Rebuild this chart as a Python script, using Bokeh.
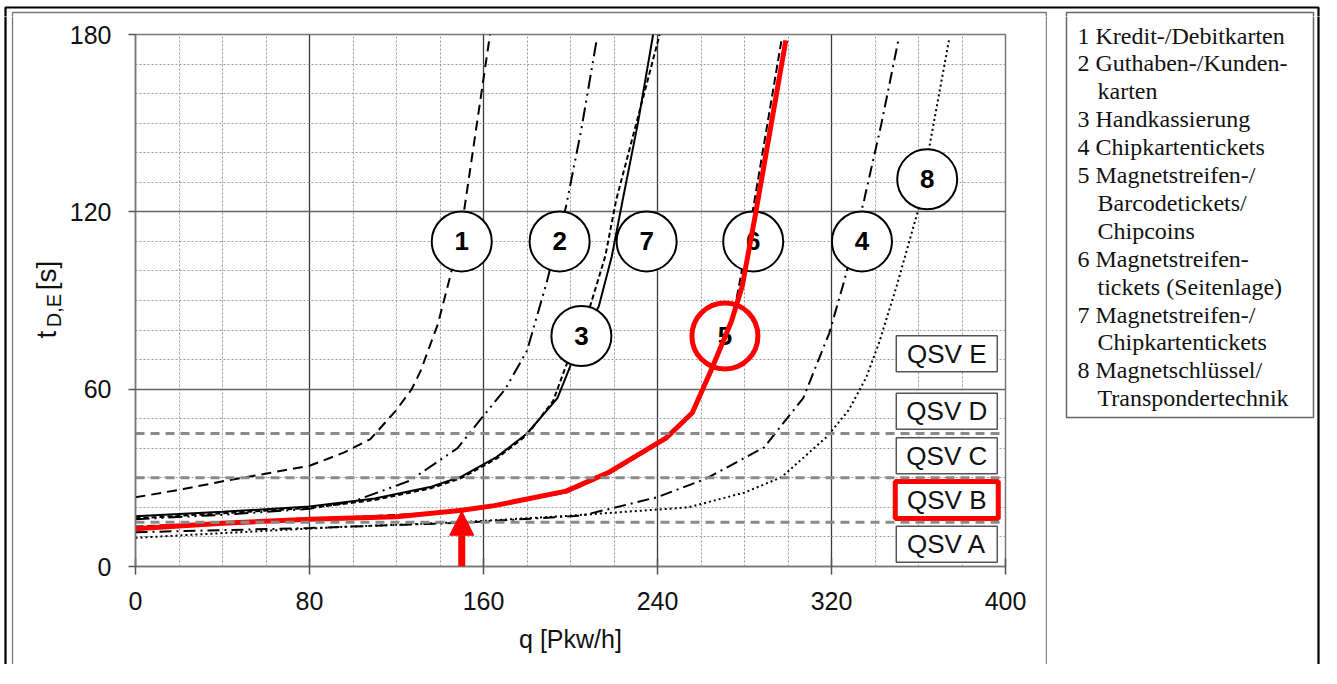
import math
from bokeh.plotting import figure
from bokeh.layouts import row, column
from bokeh.models import FixedTicker, Span, Arrow, NormalHead, Range1d
from bokeh.core.properties import value
from bokeh.embed import file_html
from bokeh.resources import INLINE

# ---------------- data ----------------
x_ticks = [0, 80, 160, 240, 320, 400]
y_ticks = [0, 60, 120, 180]
x_title = "q [Pkw/h]"
y_title_main = "t"
y_title_sub = "D,E"
y_title_unit = "[s]"

qsv_bounds = [15, 30, 45]
qsv_labels = ["QSV A", "QSV B", "QSV C", "QSV D", "QSV E"]
qsv_highlight = "QSV B"
arrow_q = 150

# curves: q [Pkw/h] -> t_D,E [s]
c1_q = [0, 22, 42, 59, 80, 96, 108, 120, 127, 131, 139, 145, 151, 157, 163]
c1_t = [23.4, 26.2, 29.1, 31.3, 34.1, 38.6, 43.1, 53, 60, 66, 82, 99, 120, 150, 180]
c2_q = [0, 40, 80, 100, 126, 148, 160, 170, 180, 189, 198, 205, 212]
c2_t = [16, 17.5, 19.5, 22, 29, 40, 51, 60, 73, 96, 122, 148, 178]
c3_q = [0, 40, 80, 110, 136, 150, 166, 180, 194, 200, 205, 213, 219, 224, 231, 238]
c3_t = [17, 18.5, 20.3, 23, 27, 30.5, 37, 45, 57, 68, 78, 88, 105, 124, 150, 180]
c7_q = [0, 40, 80, 110, 136, 150, 166, 180, 192, 198, 209, 216, 221, 231, 241]
c7_t = [16.3, 18, 19.8, 22.5, 26.5, 30, 36.5, 44.5, 56, 68, 88, 105, 124, 152, 180]
c4_q = [0, 80, 150, 205, 218, 240, 262, 289, 307, 319, 326, 335, 343, 351]
c4_t = [11.6, 13, 14.8, 17.2, 19.5, 23.5, 29.6, 40.3, 57, 79, 97, 124, 150, 179]
c6_q = [0, 80, 150, 198, 218, 244, 256, 265, 274, 277.5, 283.5, 297]
c6_t = [13.5, 16, 18.6, 25, 31.5, 43, 51.5, 66, 82, 95, 119, 178]
c8_q = [0, 40, 92, 150, 200, 254, 280, 297, 318, 328, 336, 342, 350, 360, 365, 374]
c8_t = [9.7, 11.3, 13.3, 15, 17.2, 20, 25, 30.2, 44, 53, 64, 76, 95, 121, 142, 178]
c5_q = [0, 40, 80, 120, 150, 165, 198, 218, 244, 256, 265, 274, 279, 285, 299]
c5_t = [12.8, 14.6, 16, 16.8, 19, 20.6, 25.5, 32, 43.5, 52, 67, 83, 95, 119, 178]

legend_lines = ["1 Kredit-/Debitkarten", "2 Guthaben-/Kunden-", "karten",
                "3 Handkassierung", "4 Chipkartentickets", "5 Magnetstreifen-/",
                "Barcodetickets/", "Chipcoins", "6 Magnetstreifen-",
                "tickets (Seitenlage)", "7 Magnetstreifen-/", "Chipkartentickets",
                "8 Magnetschlüssel/", "Transpondertechnik"]

# ---------------- layout (page pixels) ----------------
TOTAL_W, TOTAL_H = 1321, 668
TOP_H = 16            # strip above the chart row
ROW_H = 648           # chart row height
BOT_H = TOTAL_H - TOP_H - ROW_H
LEFT_W = 66
MAIN_W = 1045 - LEFT_W
RIGHT_W = TOTAL_W - LEFT_W - MAIN_W
SANS = "Liberation Sans"
SERIF = "Liberation Serif"

# rectangles drawn around panels (page pixel coordinates)
frames = [
    (5, 7, 1318, 667, "black", 2.2),
    (12, 12, 1045.75, 664.5, "#777777", 1.3),
    (1066, 12, 1313, 417, "#666666", 1.5),
]


def deco(ox, oy, w, h):
    f = figure(width=w, height=h, x_range=Range1d(0, w), y_range=Range1d(0, h),
               output_backend="svg", toolbar_location=None,
               x_axis_location=None, y_axis_location=None, min_border=0)
    f.min_border_left = f.min_border_right = f.min_border_top = f.min_border_bottom = 0
    f.grid.visible = False
    f.outline_line_color = None
    f.background_fill_color = "white"
    f.border_fill_color = "white"
    for (x0, y0, x1, y1, col, lw) in frames:
        f.quad(left=[x0 - ox], right=[x1 - ox], top=[oy + h - y0], bottom=[oy + h - y1],
               fill_color=None, fill_alpha=0, line_color=col, line_width=lw)
    return f


def loc(f_ox, f_oy, f_h, X, Y):
    return X - f_ox, f_oy + f_h - Y


top_fig = deco(0, 0, TOTAL_W, TOP_H)
bot_fig = deco(0, TOP_H + ROW_H, TOTAL_W, BOT_H)
left_fig = deco(0, TOP_H, LEFT_W, ROW_H)
right_fig = deco(LEFT_W + MAIN_W, TOP_H, RIGHT_W, ROW_H)

# y-axis title with subscript (in the left strip), rotated; anchors are glyph centres
for txt, X, Y, size in [(y_title_main, 46, 334, "28px"),
                        (y_title_sub, 53, 310, "20px"),
                        (y_title_unit, 46, 275, "28px")]:
    lx, ly = loc(0, TOP_H, ROW_H, X, Y)
    left_fig.text([lx], [ly], text=[txt], angle=math.pi / 2, text_font=value(SANS),
                  text_font_size=size, text_align="center", text_baseline="middle",
                  text_color="#111111")

# legend text (in the right panel)
for i, line in enumerate(legend_lines):
    indent = 0 if line[0].isdigit() else 20
    lx, ly = loc(LEFT_W + MAIN_W, TOP_H, ROW_H, 1077 + indent, 35 + 27.9 * i)
    right_fig.text([lx], [ly], text=[line], text_font=value(SERIF), text_font_size="24px",
                   text_align="left", text_baseline="middle", text_color="#111111")

# ---------------- main chart ----------------
FRAME_L, FRAME_R, FRAME_T, FRAME_B = 135, 1005, 34, 566   # page pixels
p = figure(width=MAIN_W, height=ROW_H, x_range=Range1d(0, 400), y_range=Range1d(0, 180),
           output_backend="svg", toolbar_location=None,
           min_border_left=FRAME_L - LEFT_W, min_border_right=LEFT_W + MAIN_W - FRAME_R,
           min_border_top=FRAME_T - TOP_H, min_border_bottom=TOP_H + ROW_H - FRAME_B)
p.background_fill_color = "white"
p.border_fill_color = "white"
p.outline_line_color = "#777777"
p.outline_line_width = 1.5

xt = FixedTicker(ticks=x_ticks, minor_ticks=[v for v in range(0, 401, 20) if v % 80])
yt = FixedTicker(ticks=y_ticks, minor_ticks=[v for v in range(0, 181, 10) if v % 60])
p.xaxis.ticker = xt
p.yaxis.ticker = yt
p.xgrid.ticker = xt
p.ygrid.ticker = yt

p.xgrid.grid_line_color = "#3a3a3a"
p.xgrid.grid_line_width = 1.3
p.ygrid.grid_line_color = "#666666"
p.ygrid.grid_line_width = 1.3
for g in (p.xgrid, p.ygrid):
    g.minor_grid_line_color = "#9a9a9a"
    g.minor_grid_line_dash = "2 2"
    g.minor_grid_line_width = 1

for ax in (p.xaxis, p.yaxis):
    ax.axis_line_color = "#777777"
    ax.axis_line_width = 1.5
    ax.major_tick_line_color = "#555555"
    ax.major_tick_line_width = 1.5
    ax.minor_tick_in = 0
    ax.minor_tick_out = 0
    ax.major_label_text_font = SANS
    ax.major_label_text_font_size = "25px"
    ax.major_label_text_color = "#111111"

p.xaxis.major_tick_in = 8
p.xaxis.major_tick_out = 8
p.xaxis.major_label_standoff = 17
p.xaxis.axis_label = x_title
p.xaxis.axis_label_text_font = SANS
p.xaxis.axis_label_text_font_size = "25px"
p.xaxis.axis_label_text_font_style = "normal"
p.xaxis.axis_label_text_color = "#111111"
p.xaxis.axis_label_standoff = 12

p.yaxis.major_tick_in = 0
p.yaxis.major_tick_out = 7
p.yaxis.major_label_standoff = 17

# QSV borders
for b in qsv_bounds:
    p.add_layout(Span(location=b, dimension="width", line_color="#8a8a8a",
                      line_width=3, line_dash="9 6"))

# black curves
black_styles = [
    (c1_q, c1_t, "10 6"),
    (c2_q, c2_t, "14 5 2 5 2 5"),
    (c3_q, c3_t, "solid"),
    (c7_q, c7_t, "5 3"),
    (c4_q, c4_t, "12 5 2 5"),
    (c6_q, c6_t, "8 4"),
    (c8_q, c8_t, "2 3"),
]
for q, t, dash in black_styles:
    p.line(q, t, line_color="black", line_width=2, line_dash=dash)

# numbered circles
circ_text = ["1", "2", "7", "6", "4", "8", "3"]
circ_x = [150, 195, 235, 284, 334, 364, 205]
circ_y = [110, 110, 110, 110, 110, 131, 78]
p.scatter(circ_x, circ_y, size=60, fill_color="white", line_color="black", line_width=2)
p.text(circ_x, circ_y, text=circ_text, text_font=value(SANS), text_font_style="bold",
       text_font_size="26px", text_align="center", text_baseline="middle", text_color="black")

# highlighted circle 5
p.scatter([271], [78], size=66, fill_color="white", line_color="#ff0000", line_width=5)
p.text([271], [78], text=["5"], text_font=value(SANS), text_font_style="bold",
       text_font_size="26px", text_align="center", text_baseline="middle", text_color="black")

# QSV boxes
qsv_y = [(0 + qsv_bounds[0]) / 2, (qsv_bounds[0] + qsv_bounds[1]) / 2,
         (qsv_bounds[1] + qsv_bounds[2]) / 2, (qsv_bounds[2] + 60) / 2, 72]
box_x = 373
for lab, yy in zip(qsv_labels, qsv_y):
    if lab == qsv_highlight:
        p.rect([box_x], [yy], width=103, height=37, width_units="screen", height_units="screen",
               fill_color="white", line_color="#ff0000", line_width=5)
    else:
        p.rect([box_x], [yy], width=101, height=36, width_units="screen", height_units="screen",
               fill_color="white", line_color="#555555", line_width=1.5)
    p.text([box_x], [yy], text=[lab], text_font=value(SANS), text_font_size="26px",
           text_align="center", text_baseline="middle", text_color="#111111")

# red curve
p.line(c5_q, c5_t, line_color="#ff0000", line_width=5)

# red arrow
p.add_layout(Arrow(end=NormalHead(size=24, fill_color="#ff0000", line_color="#ff0000"),
                   x_start=arrow_q, y_start=0, x_end=arrow_q,
                   y_end=c5_t[4] - 0.3, line_color="#ff0000", line_width=7))

# wrap the chart on its own so that its frame is not aligned with the side panels
page = column(top_fig, row(left_fig, column(p), right_fig), bot_fig)
open("out.html", "w").write(file_html(page, INLINE))
